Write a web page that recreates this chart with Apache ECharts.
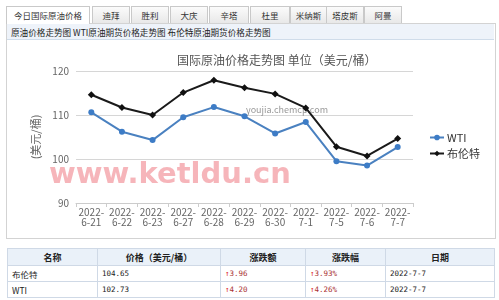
<!DOCTYPE html>
<html><head><meta charset="utf-8">
<script src="https://cdn.jsdelivr.net/npm/echarts@6/dist/echarts.min.js"></script>
<style>
html,body{margin:0;padding:0;background:#fff;width:499px;height:300px;overflow:hidden;font-family:"Noto Sans CJK SC","DejaVu Sans",sans-serif;}
.tab{position:absolute;top:6px;height:16px;border:1px solid #c9c9c9;border-bottom:none;background:linear-gradient(#fbfbfb,#e8e8e8);font-size:8.5px;line-height:16px;text-align:center;color:#333;box-sizing:content-box;}
.tab.on{background:#fff;height:17px;z-index:2;}
#box{position:absolute;left:6px;top:23px;width:488px;height:214px;border:1px solid #d3d3d3;}
#sub{position:absolute;left:7px;top:24px;width:487px;height:16px;background:#eef3fa;border-bottom:1px solid #cfdcea;font-size:8.6px;line-height:16px;color:#222;padding-left:4px;box-sizing:border-box;white-space:nowrap;}
#chart{position:absolute;left:0;top:0;width:499px;height:240px;}
table{position:absolute;left:7px;top:248px;width:487px;border-collapse:collapse;font-size:8.5px;color:#222;table-layout:fixed;}
td,th{border:1px solid #cfd9e6;height:15px;padding:0 4px;white-space:nowrap;}
th{background:#eaf1f9;font-weight:bold;text-align:center;height:16px;font-size:9px;}
td.m{font-family:"DejaVu Sans Mono",monospace;font-size:7.5px;}
td.r{color:#a33;}
.up{color:#d22;}
</style></head><body>
<div id="tabs"></div>
<div id="box"></div>
<div id="sub">原油价格走势图 WTI原油期货价格走势图 布伦特原油期货价格走势图</div>
<div id="chart"></div>
<table id="tbl"></table>
<script>
// ---- data ----
var tabNames = ["今日国际原油价格","迪拜","胜利","大庆","辛塔","杜里","米纳斯","塔皮斯","阿曼"];
var categories = ["2022-6-21","2022-6-22","2022-6-23","2022-6-27","2022-6-28","2022-6-29","2022-6-30","2022-7-1","2022-7-5","2022-7-6","2022-7-7"];
var wti   = [110.6,106.2,104.3,109.5,111.8,109.7,105.8,108.4,99.5,98.5,102.7];
var brent = [114.6,111.7,110.0,115.1,117.9,116.2,114.8,111.6,102.8,100.7,104.65];
var yTicks = [90,100,110,120];
var tableHead = ["名称","价格（美元/桶）","涨跌额","涨跌幅","日期"];
var tableRows = [
  ["布伦特","104.65","3.96","3.93%","2022-7-7"],
  ["WTI","102.73","4.20","4.26%","2022-7-7"]
];

// ---- tabs ----
var tabPos = [[6,82],[92,36],[131,36],[170,36],[209,38],[250,38],[290,35],[326,36],[364,36]];
var tabsEl = document.getElementById('tabs');
tabNames.forEach(function(n,i){
  var d=document.createElement('div');
  d.className='tab'+(i===0?' on':'');
  d.style.left=tabPos[i][0]+'px'; d.style.width=tabPos[i][1]+'px';
  d.textContent=n; tabsEl.appendChild(d);
});

// ---- table ----
var colW=[90,123,85,80,109];
var tbl=document.getElementById('tbl');
var h='<tr>'+tableHead.map(function(t,i){return '<th style="width:'+(colW[i]-9)+'px">'+t+'</th>';}).join('')+'</tr>';
tableRows.forEach(function(r){
  h+='<tr><td>'+r[0]+'</td><td class="m">'+r[1]+'</td>'+
     '<td class="m r"><span class="up">↑</span>'+r[2]+'</td>'+
     '<td class="m r"><span class="up">↑</span>'+r[3]+'</td>'+
     '<td class="m">'+r[4]+'</td></tr>';
});
tbl.innerHTML=h;

// ---- chart ----
var chart = echarts.init(document.getElementById('chart'), null, {renderer:'canvas'});
var font = '"Noto Sans CJK SC","DejaVu Sans",sans-serif';
chart.setOption({
  animation:false,
  backgroundColor:'transparent',
  textStyle:{fontFamily:font},
  title:{text:'国际原油价格走势图 单位（美元/桶）',left:172,top:49,textStyle:{fontSize:12,fontWeight:'normal',color:'#555',fontFamily:font}},
  grid:{left:76,right:86,top:71,bottom:37},
  legend:{orient:'vertical',left:424,top:127,itemWidth:14,itemHeight:7,itemGap:5,
    textStyle:{fontSize:11,color:'#333',padding:[0,0,0,-2]},
    data:['WTI','布伦特']},
  xAxis:{type:'category',data:categories,boundaryGap:true,
    axisLine:{lineStyle:{color:'#ccc'}},
    axisTick:{show:true,length:4,lineStyle:{color:'#ccc'}},
    axisLabel:{interval:0,color:'#666',fontSize:10,lineHeight:10,margin:4,
      formatter:function(v){var p=v.indexOf('-');return v.slice(0,p+1)+'\n'+v.slice(p+1);}}},
  yAxis:{type:'value',min:yTicks[0],max:yTicks[yTicks.length-1],interval:10,
    name:'(美元/桶)',nameLocation:'middle',nameGap:28,nameRotate:90,
    nameTextStyle:{color:'#666',fontSize:11},
    axisLine:{show:false},axisTick:{show:false},
    axisLabel:{color:'#666',fontSize:10,margin:7},
    splitLine:{lineStyle:{color:'#d6d6d6'}}},
  series:[
    {name:'WTI',type:'line',data:wti,symbol:'circle',symbolSize:6,
      itemStyle:{color:'#3d7cc6'},lineStyle:{color:'#4a81c0',width:2}},
    {name:'布伦特',type:'line',data:brent,symbol:'diamond',symbolSize:7,
      itemStyle:{color:'#111'},lineStyle:{color:'#1a1a1a',width:2}}
  ],
  graphic:[
    {type:'text',left:246,top:105,z:1,style:{text:'youjia.chemcp.com',fontSize:9,fill:'#999',fontFamily:font}},
    {type:'text',left:49,top:161,z:100,style:{text:'www.ketldu.cn',fontSize:29,fontWeight:'bold',fill:'rgba(238,120,130,0.55)',fontFamily:'"DejaVu Sans",sans-serif'}}
  ]
});
</script>
</body></html>
